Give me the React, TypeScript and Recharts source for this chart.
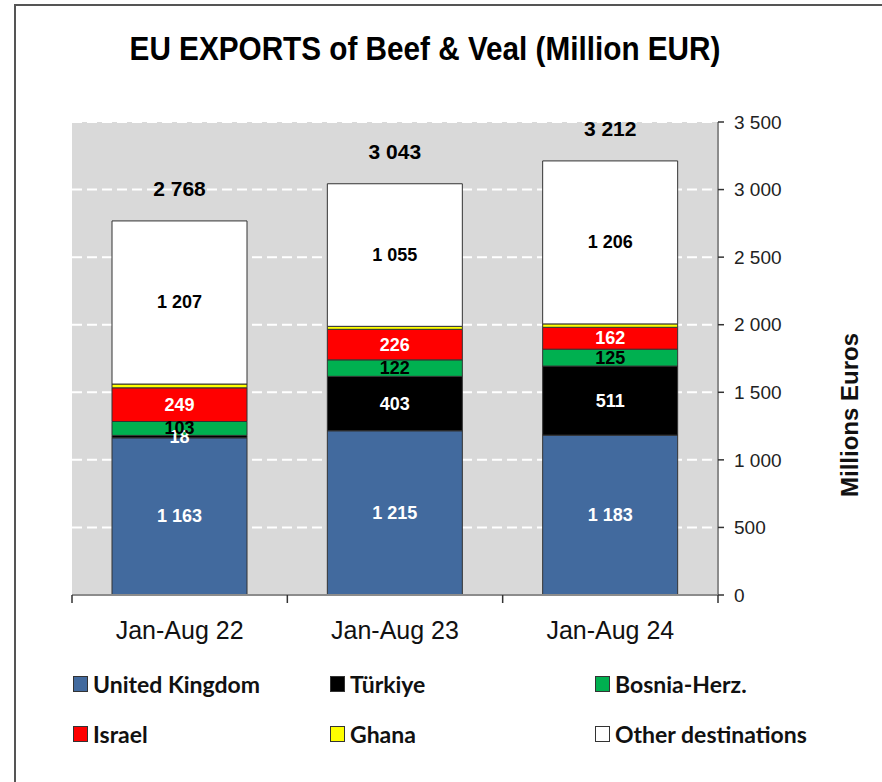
import React from "react";
import { BarChart, Bar, XAxis, YAxis, CartesianGrid, LabelList } from "recharts";

const categories = ["Jan-Aug 22", "Jan-Aug 23", "Jan-Aug 24"];
const unitedKingdom = [1163, 1215, 1183];
const turkiye = [18, 403, 511];
const bosnia = [103, 122, 125];
const israel = [249, 226, 162];
const ghana = [28, 22, 25];
const otherDest = [1207, 1055, 1206];
const totals = [2768, 3043, 3212];
const yTicks = [0, 500, 1000, 1500, 2000, 2500, 3000, 3500];

const series = [
  { key: "uk", name: "United Kingdom", values: unitedKingdom, color: "#426a9e", label: "#ffffff" },
  { key: "tr", name: "Türkiye", values: turkiye, color: "#000000", label: "#ffffff" },
  { key: "ba", name: "Bosnia-Herz.", values: bosnia, color: "#00b050", label: "#000000" },
  { key: "il", name: "Israel", values: israel, color: "#ff0000", label: "#ffffff" },
  { key: "gh", name: "Ghana", values: ghana, color: "#ffff00", label: null },
  { key: "ot", name: "Other destinations", values: otherDest, color: "#ffffff", label: "#000000" },
];

const data = categories.map((cat, i) => {
  const row: Record<string, any> = { cat, total: totals[i] };
  series.forEach((s) => (row[s.key] = s.values[i]));
  return row;
});

const fmt = (v: number) => String(v).replace(/\B(?=(\d{3})+(?!\d))/g, " ");

const FONT = "'Liberation Sans', Arial, sans-serif";

// legend layout (Excel-like 3 columns x 2 rows)
const legendCols = [73, 330, 595];
const legendRows = [684, 734];

function SegLabel(color: string) {
  return (props: any) => {
    const { x, y, width, height, value } = props;
    return (
      <text
        x={x + width / 2}
        y={y + height / 2}
        textAnchor="middle"
        dominantBaseline="central"
        fill={color}
        fontFamily={FONT}
        fontWeight="bold"
        fontSize={18}
      >
        {fmt(value)}
      </text>
    );
  };
}

const TotalLabel = (props: any) => {
  const { x, y, width, index } = props;
  return (
    <text
      x={x + width / 2}
      y={y - 32}
      textAnchor="middle"
      dominantBaseline="central"
      fill="#000"
      fontFamily={FONT}
      fontWeight="bold"
      fontSize={21}
    >
      {fmt(totals[index])}
    </text>
  );
};

const XTick = (props: any) => {
  const { x, y, payload, index } = props;
  const half = payload.offset || 0;
  return (
    <g>
      <line x1={x - half} x2={x - half} y1={y} y2={y + 8} stroke="#333" strokeWidth={1.5} />
      {index === categories.length - 1 && (
        <line x1={x + half} x2={x + half} y1={y} y2={y + 8} stroke="#333" strokeWidth={1.5} />
      )}
      <text
        x={x}
        y={y + 35}
        textAnchor="middle"
        dominantBaseline="central"
        fill="#111"
        fontFamily={FONT}
        fontSize={25}
      >
        {payload.value}
      </text>
    </g>
  );
};

export default function App() {
  return (
    <div
      style={{
        position: "absolute",
        left: 0,
        top: 0,
        width: 882,
        height: 782,
        background: "#fff",
        overflow: "hidden",
      }}
    >
      <div
        style={{
          position: "absolute",
          left: 14,
          top: 4,
          width: 868,
          height: 778,
          borderLeft: "2px solid #555",
          borderTop: "2px solid #555",
        }}
      />
      <div
        style={{
          position: "absolute",
          left: 0,
          top: 30,
          width: 850,
          textAlign: "center",
          fontFamily: FONT,
          fontWeight: "bold",
          fontSize: 33,
          color: "#000",
          transform: "scaleX(0.9)",
          transformOrigin: "425px 0",
        }}
      >
        EU EXPORTS of Beef &amp; Veal (Million EUR)
      </div>

      <div style={{ position: "absolute", left: 0, top: 0 }}>
        <BarChart
          width={882}
          height={782}
          data={data}
          margin={{ top: 122, left: 72, right: 104, bottom: 147 }}
        >
          <CartesianGrid
            vertical={false}
            fill="#d9d9d9"
            stroke="#ffffff"
            strokeWidth={2}
            strokeDasharray="10 5"
          />
          <XAxis
            dataKey="cat"
            interval={0}
            height={40}
            tickLine={false}
            tickSize={0}
            tickMargin={0}
            axisLine={{ stroke: "#8c8c8c", strokeWidth: 2 }}
            tick={<XTick />}
          />
          <YAxis
            orientation="right"
            width={60}
            domain={[0, 3500]}
            ticks={yTicks}
            interval={0}
            tickFormatter={fmt}
            axisLine={{ stroke: "#8c8c8c", strokeWidth: 2 }}
            tickLine={{ stroke: "#333", strokeWidth: 1.5 }}
            tickSize={6}
            tickMargin={10}
            tick={{ fill: "#222", fontSize: 19, fontFamily: FONT }}
            textAnchor="start"
          />
          {series.map((s) => (
            <Bar
              key={s.key}
              dataKey={s.key}
              name={s.name}
              stackId="a"
              fill={s.color}
              stroke="#333"
              strokeWidth={1}
              barSize={135}
              isAnimationActive={false}
            >
              {s.label && <LabelList dataKey={s.key} content={SegLabel(s.label)} />}
              {s.key === "ot" && <LabelList dataKey="total" content={TotalLabel} />}
            </Bar>
          ))}
        </BarChart>
      </div>

      <div
        style={{
          position: "absolute",
          left: 850,
          top: 415,
          transform: "translate(-50%, -50%) rotate(-90deg)",
          whiteSpace: "nowrap",
          fontFamily: FONT,
          fontWeight: "bold",
          fontSize: 24,
          color: "#111",
        }}
      >
        Millions Euros
      </div>

      {series.map((s, i) => (
        <div
          key={s.key}
          style={{
            position: "absolute",
            left: legendCols[i % 3],
            top: legendRows[Math.floor(i / 3)],
            transform: "translateY(-50%)",
            display: "flex",
            alignItems: "center",
            fontFamily: "Lato, 'Open Sans', sans-serif",
            fontWeight: "bold",
            fontSize: 23,
            color: "#111",
            whiteSpace: "nowrap",
          }}
        >
          <span
            style={{
              display: "inline-block",
              width: 13,
              height: 14,
              background: s.color,
              border: "1px solid #333",
              marginRight: 5,
            }}
          />
          {s.name}
        </div>
      ))}
    </div>
  );
}
